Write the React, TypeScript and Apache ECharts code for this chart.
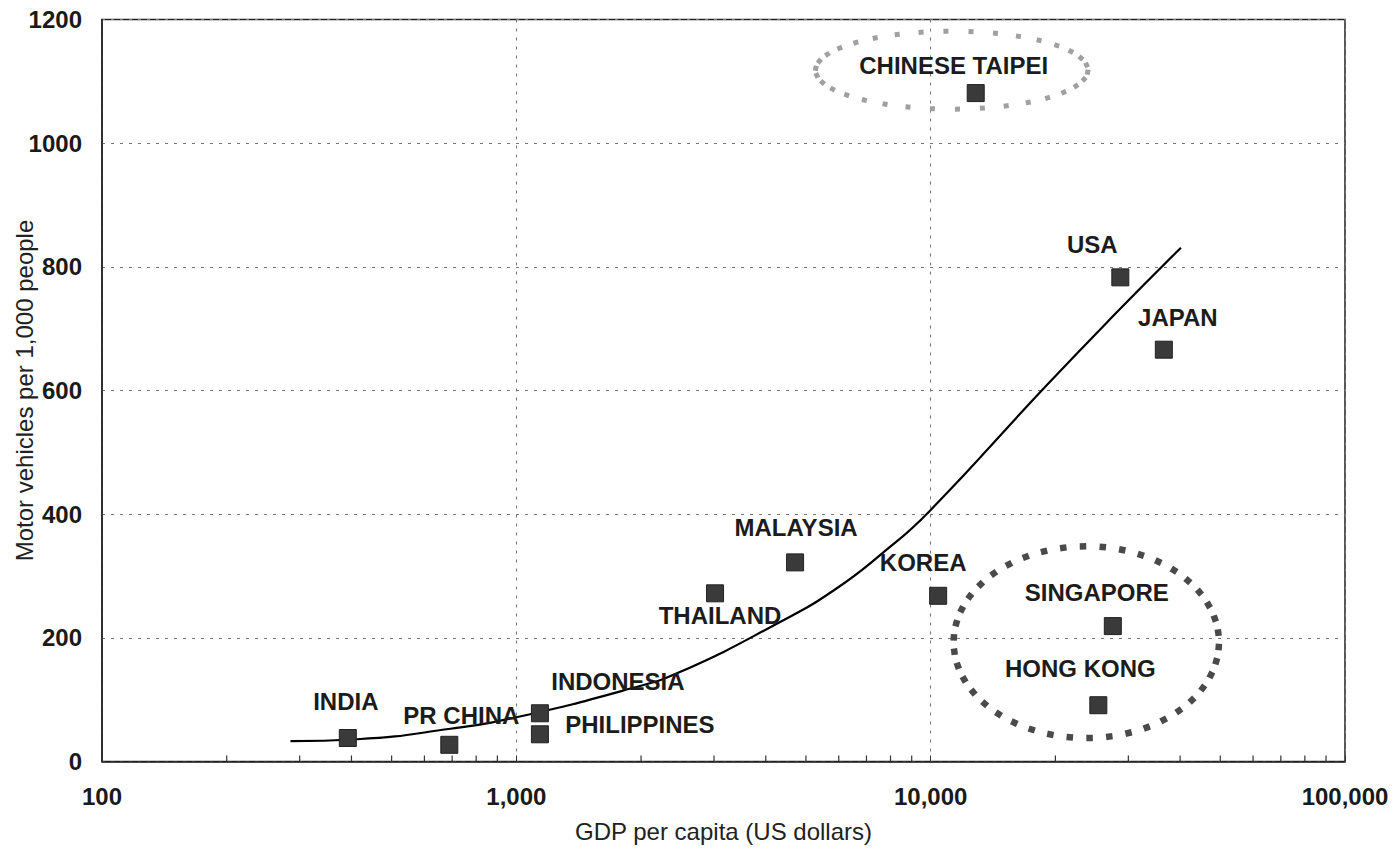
import React, { useEffect, useRef } from "react";
import * as echarts from "echarts";

// Economies plotted: GDP per capita (US$) vs motor vehicles per 1,000 people
const countries = [
  "INDIA",
  "PR CHINA",
  "INDONESIA",
  "PHILIPPINES",
  "THAILAND",
  "MALAYSIA",
  "KOREA",
  "SINGAPORE",
  "HONG KONG",
  "CHINESE TAIPEI",
  "USA",
  "JAPAN",
];
const gdpPerCapita = [392, 689, 1140, 1140, 3017, 4707, 10425, 27520, 25390, 12845, 28690, 36540];
const vehiclesPer1000 = [38, 27, 78, 44, 272, 322, 268, 219, 91, 1081, 783, 666];

// Fitted trend curve
const trendGdp = [285, 413, 693, 1006, 1886, 2489, 4342, 5841, 7715, 9908, 18780, 27710, 40180];
const trendVehicles = [33, 36, 53, 72, 118, 145, 226, 277, 339, 404, 604, 722, 831];

// Axis ticks
const xTickValues = [100, 1000, 10000, 100000];
const xTickLabels = ["100", "1,000", "10,000", "100,000"];
const xMinorTicks = [
  200, 300, 400, 500, 600, 700, 800, 900,
  2000, 3000, 4000, 5000, 6000, 7000, 8000, 9000,
  20000, 30000, 40000, 50000, 60000, 70000, 80000, 90000,
];
const yMin = 0;
const yMax = 1200;
const yStep = 200;

// Label placement around each marker (px shift of the label centre)
const labelOffsets: Record<string, [number, number]> = {
  INDIA: [-2, -37],
  "PR CHINA": [12, -29],
  INDONESIA: [78, -32],
  PHILIPPINES: [100, -10],
  THAILAND: [5, 22],
  MALAYSIA: [1, -35],
  KOREA: [-15, -33],
  SINGAPORE: [-16, -34],
  "HONG KONG": [-18, -37],
  "CHINESE TAIPEI": [-22, -28],
  USA: [-28, -33],
  JAPAN: [14, -32],
};

// Dotted rings drawn around groups of outliers (bounds in data units)
const outlierRings = [
  { xFrom: 5276, xTo: 23950, yFrom: 1055, yTo: 1181, dots: 34, size: 5, color: "#a0a0a0" },
  { xFrom: 11365, xTo: 49620, yFrom: 38, yTo: 348, dots: 42, size: 6.5, color: "#4a4a4a" },
];

const FONT = "'Liberation Sans', Arial, Helvetica, sans-serif";

export default function App() {
  const ref = useRef<HTMLDivElement>(null);

  useEffect(() => {
    document.body.style.margin = "0";
    if (!ref.current) return;
    const chart = echarts.init(ref.current, undefined, { renderer: "svg" });

    const points = countries.map((name, i) => ({
      name,
      value: [gdpPerCapita[i], vehiclesPer1000[i]],
    }));

    const trend = trendGdp.map((g, i) => [g, trendVehicles[i]]);
    const minor = xMinorTicks.map((v) => [v, 0]);

    chart.setOption({
      animation: false,
      backgroundColor: "#ffffff",
      textStyle: { fontFamily: FONT },
      grid: {
        left: 102,
        right: 54,
        top: 19.5,
        bottom: 90.5,
        containLabel: false,
        outerBoundsMode: "none",
        show: true,
        borderColor: "#222",
        borderWidth: 1.5,
        backgroundColor: "transparent",
      },
      xAxis: {
        type: "log",
        logBase: 10,
        min: xTickValues[0],
        max: xTickValues[xTickValues.length - 1],
        name: "GDP per capita (US dollars)",
        nameLocation: "middle",
        nameGap: 58,
        nameTextStyle: { fontFamily: FONT, fontSize: 24, color: "#222" },
        axisLine: { show: true, lineStyle: { color: "#222", width: 1.5 } },
        axisTick: { show: true, inside: true, length: 6, lineStyle: { color: "#333" } },
        axisLabel: {
          margin: 23,
          fontFamily: FONT,
          fontSize: 24,
          fontWeight: "bold",
          color: "#1a1a1a",
          formatter: (v: number) => {
            const idx = xTickValues.findIndex((t) => Math.abs(t - v) / t < 1e-6);
            return idx >= 0 ? xTickLabels[idx] : "";
          },
        },
        splitLine: { show: true, lineStyle: { color: "#777", width: 1, type: [3, 6] } },
      },
      yAxis: {
        type: "value",
        min: yMin,
        max: yMax,
        interval: yStep,
        name: "Motor vehicles per 1,000 people",
        nameLocation: "middle",
        nameGap: 66,
        nameMoveOverlap: false,
        nameTextStyle: { fontFamily: FONT, fontSize: 24, color: "#222" },
        axisLine: { show: true, lineStyle: { color: "#222", width: 1.5 } },
        axisTick: { show: false },
        axisLabel: {
          margin: 20,
          fontFamily: FONT,
          fontSize: 24,
          fontWeight: "bold",
          color: "#1a1a1a",
          formatter: (v: number) => String(v),
        },
        splitLine: { show: true, lineStyle: { color: "#777", width: 1, type: [3, 6] } },
      },
      series: [
        {
          type: "scatter",
          name: "minor ticks",
          data: minor,
          symbol: "rect",
          symbolSize: [1.2, 6],
          symbolOffset: [0, -3],
          itemStyle: { color: "#333", opacity: 1 },
          silent: true,
          z: 1,
        },
        {
          type: "line",
          name: "trend",
          data: trend,
          smooth: 0.5,
          showSymbol: false,
          symbol: "none",
          lineStyle: { color: "#000", width: 2.2 },
          silent: true,
          z: 3,
        },
        {
          type: "scatter",
          name: "economies",
          data: points,
          symbol: "rect",
          symbolSize: 17,
          itemStyle: { color: "#3a3a3a", borderColor: "#222", borderWidth: 1, opacity: 1 },
          label: {
            show: true,
            position: "inside",
            formatter: "{b}",
            fontFamily: FONT,
            fontSize: 24,
            fontWeight: "bold",
            color: "#1c1c1c",
            opacity: 1,
            textBorderWidth: 0,
            textBorderColor: "transparent",
          },
          labelLayout: (params: any) => {
            const name = countries[params.dataIndex];
            const off = labelOffsets[name] || [0, -30];
            return { dx: off[0], dy: off[1], hideOverlap: false };
          },
          z: 4,
        },
      ],
    });

    // Rings of small square dots around the outlier groups
    const ringElements: any[] = [];
    outlierRings.forEach((ring) => {
      const a = chart.convertToPixel({ gridIndex: 0 }, [ring.xFrom, ring.yTo]) as number[];
      const b = chart.convertToPixel({ gridIndex: 0 }, [ring.xTo, ring.yFrom]) as number[];
      const cx = (a[0] + b[0]) / 2;
      const cy = (a[1] + b[1]) / 2;
      const rx = Math.abs(b[0] - a[0]) / 2;
      const ry = Math.abs(b[1] - a[1]) / 2;
      for (let k = 0; k < ring.dots; k++) {
        const t = (2 * Math.PI * k) / ring.dots + 0.05;
        const px = cx + rx * Math.cos(t);
        const py = cy + ry * Math.sin(t);
        const ang = Math.atan2(ry * Math.cos(t), -rx * Math.sin(t));
        ringElements.push({
          type: "rect",
          x: px,
          y: py,
          rotation: -ang,
          shape: { x: -ring.size / 2, y: -ring.size / 2, width: ring.size, height: ring.size },
          style: { fill: ring.color },
          silent: true,
          z: 2,
        });
      }
    });
    chart.setOption({ graphic: { elements: ringElements } });

    return () => chart.dispose();
  }, []);

  return <div ref={ref} style={{ width: 1399, height: 852 }} />;
}
